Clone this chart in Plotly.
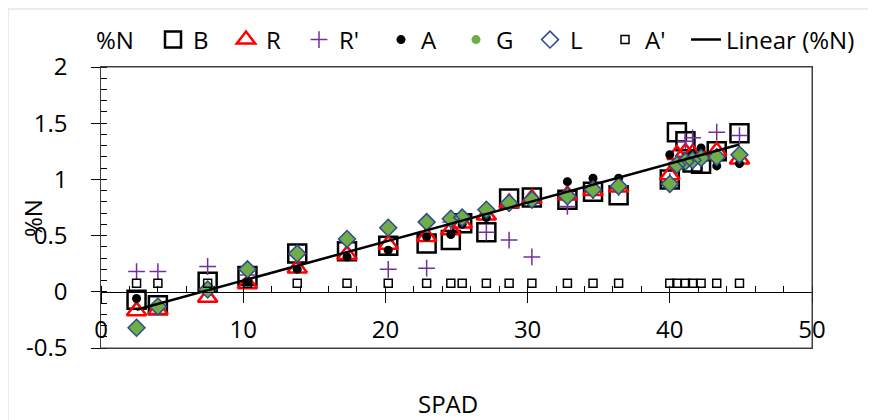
import plotly.graph_objects as go

# ---- data ----
spad = [2.5, 4.0, 7.5, 10.3, 13.8, 17.3, 20.2, 22.9, 24.6, 25.4, 27.1, 28.7, 30.3,
        32.8, 34.6, 36.4, 40.0, 40.5, 41.1, 41.6, 42.2, 43.3, 44.9]
n_B = [-0.07, -0.12, 0.09, 0.14, 0.34, 0.36, 0.41, 0.43, 0.46, 0.61, 0.53, 0.83, 0.84,
       0.82, 0.89, 0.86, 1.00, 1.42, 1.34, 1.15, 1.14, 1.25, 1.41]
n_R = [-0.17, -0.16, -0.05, 0.07, 0.21, 0.33, 0.42, 0.49, 0.55, 0.61, 0.68, 0.79, 0.83,
       0.86, 0.90, 0.93, 1.04, 1.22, 1.24, 1.23, 1.22, 1.25, 1.18]
n_Rp = [0.18, 0.18, 0.225, 0.15, 0.33, 0.45, 0.20, 0.21, 0.62, 0.64, 0.53, 0.46, 0.31,
        0.76, 0.90, 0.93, 0.98, 1.15, 1.34, 1.37, 1.20, 1.42, 1.39]
n_A = [-0.06, -0.11, 0.03, 0.09, 0.20, 0.31, 0.37, 0.49, 0.51, 0.60, 0.66, 0.79, 0.83,
       0.98, 1.01, 1.01, 1.22, 1.15, 1.19, 1.22, 1.28, 1.12, 1.14]
n_G = [-0.32, -0.13, 0.02, 0.20, 0.34, 0.47, 0.57, 0.62, 0.65, 0.66, 0.73, 0.79, 0.82,
       0.85, 0.91, 0.94, 0.96, 1.13, 1.16, 1.17, 1.19, 1.20, 1.22]
n_L = [-0.32, -0.13, 0.02, 0.20, 0.34, 0.47, 0.57, 0.62, 0.65, 0.66, 0.73, 0.79, 0.82,
       0.85, 0.91, 0.94, 0.96, 1.13, 1.16, 1.17, 1.19, 1.20, 1.22]
n_Ap = [0.075, 0.075, 0.075, 0.075, 0.075, 0.075, 0.075, 0.075, 0.075, 0.075, 0.075, 0.075,
        0.075, 0.075, 0.075, 0.075, 0.075, 0.075, 0.075, 0.075, 0.075, 0.075, 0.075]
trend_x = [2.5, 44.9]
trend_y = [-0.16, 1.31]

x_ticks = [0, 10, 20, 30, 40, 50]
y_ticks = [-0.5, 0, 0.5, 1, 1.5, 2]
y_ticktext = ["-0.5", "0", "0.5", "1", "1.5", "2"]

# ---- layout geometry (screen pixels; page body has an 8px margin) ----
OFF = 8
W, H = 876 - OFF, 420 - OFF
PLOT_L, PLOT_R, PLOT_T, PLOT_B = 101, 812, 67, 348
L_M, R_M = PLOT_L - OFF, 876 - PLOT_R
T_M, B_M = PLOT_T - OFF, 420 - PLOT_B
PW, PH = PLOT_R - PLOT_L, PLOT_B - PLOT_T


def px(xp):
    return (xp - PLOT_L) / PW


def py(yp):
    return (PLOT_B - yp) / PH


FONT = "Open Sans"
FS = 24
PAD = "\u00a0\u00a0\u00a0"
BOX = "#404040"

fig = go.Figure()

# empty trace on a second axis pair, used only to draw the plot-area frame
fig.add_trace(go.Scatter(x=[None], y=[None], xaxis="x2", yaxis="y2", mode="markers",
                         showlegend=False, hoverinfo="skip"))

fig.add_trace(go.Scatter(x=[None], y=[None], mode="markers", name="%N", legendwidth=52,
                         marker=dict(color="rgba(0,0,0,0)", size=1)))
fig.add_trace(go.Scatter(x=spad, y=n_B, mode="markers", name="B", legendwidth=28,
                         marker=dict(symbol="square-open", size=18, color="black",
                                     line=dict(width=2.5, color="black"))))
fig.add_trace(go.Scatter(x=spad, y=n_R, mode="markers", name="R", legendwidth=28,
                         marker=dict(symbol="triangle-up-open", size=17, color="#FF0000",
                                     line=dict(width=2.5, color="#FF0000"))))
fig.add_trace(go.Scatter(x=spad, y=n_Rp, mode="markers", name="R'", legendwidth=37,
                         marker=dict(symbol="cross-thin", size=12, color="#7030A0",
                                     line=dict(width=1.5, color="#7030A0"))))
fig.add_trace(go.Scatter(x=spad, y=n_A, mode="markers", name="A", legendwidth=30,
                         marker=dict(symbol="circle", size=9, color="black")))
fig.add_trace(go.Scatter(x=[None], y=[None], mode="markers", name="G", legendgroup="G",
                         legendwidth=29,
                         marker=dict(symbol="circle", size=9, color="#70AD47")))
fig.add_trace(go.Scatter(x=spad, y=n_G, mode="markers", name="G", legendgroup="G",
                         showlegend=False,
                         marker=dict(symbol="diamond", size=13, color="#70AD47")))
fig.add_trace(go.Scatter(x=spad, y=n_L, mode="markers", name="L", legendwidth=30,
                         marker=dict(symbol="diamond-open", size=13, color="#2E4C8C",
                                     line=dict(width=1.5, color="#2E4C8C"))))
fig.add_trace(go.Scatter(x=spad, y=n_Ap, mode="markers", name="A'", legendwidth=36,
                         marker=dict(symbol="square-open", size=8, color="black",
                                     line=dict(width=1.5, color="black"))))
fig.add_trace(go.Scatter(x=trend_x, y=trend_y, mode="lines", name="Linear (%N)",
                         line=dict(color="black", width=2.5)))


def hline(y0, x0, x1, color):
    return dict(type="line", xref="paper", yref="paper", x0=x0, x1=x1, y0=y0, y1=y0,
                line=dict(color=color, width=1))


def vline(x0, y0, y1, color):
    return dict(type="line", xref="paper", yref="paper", x0=x0, x1=x0, y0=y0, y1=y1,
                line=dict(color=color, width=1))


fig.update_layout(
    template="none",
    width=W, height=H,
    margin=dict(l=L_M, r=R_M, t=T_M, b=B_M, autoexpand=False),
    paper_bgcolor="white", plot_bgcolor="white",
    font=dict(family=FONT, size=FS, color="black"),
    hovermode=False,
    showlegend=True,
    legend=dict(orientation="h", x=px(56), y=py(40), xanchor="left", yanchor="middle",
                font=dict(family=FONT, size=FS, color="black"),
                bgcolor="rgba(0,0,0,0)", itemwidth=30, tracegroupgap=0),
    xaxis=dict(range=[0, 50], tickvals=x_ticks, ticktext=[str(v) for v in x_ticks],
               showgrid=False, zeroline=False, showline=True, linecolor="black",
               linewidth=1, anchor="free", position=0.2, automargin=False,
               ticks="outside", ticklen=10, tickcolor="black", tickwidth=1,
               ticklabelstandoff=6,
               minor=dict(dtick=2, ticks="inside", ticklen=6, tickcolor="black",
                          showgrid=False)),
    yaxis=dict(range=[-0.5, 2], tickvals=y_ticks, ticktext=[t + PAD for t in y_ticktext],
               showgrid=False, zeroline=False, showline=True, linecolor="black",
               linewidth=1, ticks="outside", ticklen=9, tickcolor="black", tickwidth=1,
               automargin=False,
               minor=dict(dtick=0.1, ticks="inside", ticklen=6, tickcolor="black",
                          showgrid=False)),
    # frame of the plot area
    xaxis2=dict(overlaying="x", anchor="y2", range=[0, 50], showline=True, mirror=True,
                linecolor=BOX, linewidth=1, showticklabels=False, ticks="",
                showgrid=False, zeroline=False, automargin=False, fixedrange=True),
    yaxis2=dict(overlaying="y", anchor="x2", range=[-0.5, 2], showline=True, mirror=True,
                linecolor=BOX, linewidth=1, showticklabels=False, ticks="",
                showgrid=False, zeroline=False, automargin=False, fixedrange=True),
    shapes=[
        hline(1, 0, 1, BOX),
        hline(0, 0, 1, BOX),
        vline(1, 0, 1, BOX),
        # chart-area border
        hline(py(9), px(8), px(880), "#D9D9D9"),
        vline(px(8), py(9), py(425), "#D9D9D9"),
    ],
    annotations=[
        dict(text="SPAD", xref="paper", yref="paper", x=px(448), y=py(403),
             showarrow=False, xanchor="center", yanchor="middle",
             font=dict(family=FONT, size=FS, color="black")),
        dict(text="%N", xref="paper", yref="paper", x=px(33), y=py(218),
             showarrow=False, xanchor="center", yanchor="middle", textangle=-90,
             font=dict(family=FONT, size=FS, color="black")),
    ],
)

fig.write_html("out.html", config={"displayModeBar": False})
